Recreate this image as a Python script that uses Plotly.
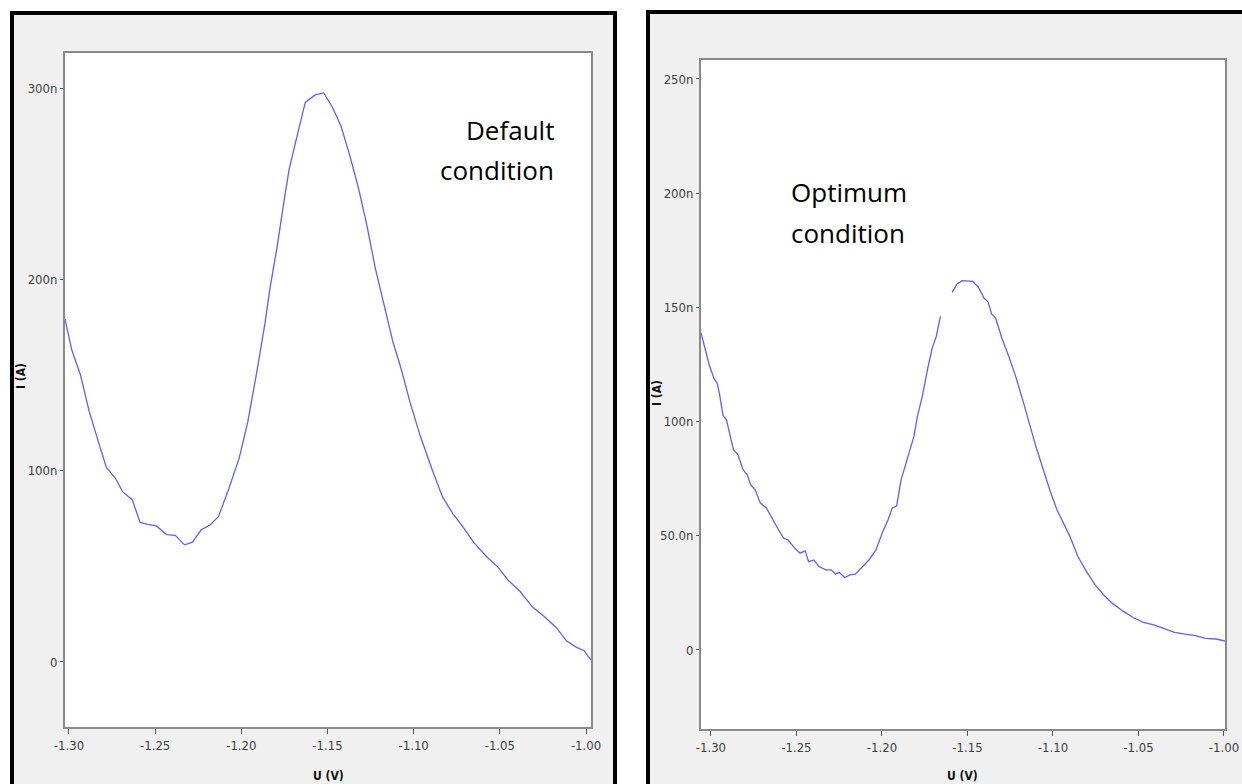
import plotly.graph_objects as go

W, H = 1242, 784

# ---- Data (U in V, I in nA) ----
default_u = [-1.3023, -1.2983, -1.2933, -1.2883, -1.2833, -1.2783, -1.2733, -1.2689, -1.2633, -1.2587,
             -1.2543, -1.2493, -1.2433, -1.2383, -1.2329, -1.2283, -1.2233, -1.2183, -1.2133, -1.2073,
             -1.2013, -1.1963, -1.1913, -1.1863, -1.1833, -1.1793, -1.1753, -1.1723, -1.1673, -1.1629,
             -1.1572, -1.1522, -1.1472, -1.1422, -1.1372, -1.1322, -1.1272, -1.1222, -1.1172, -1.1122,
             -1.1072, -1.1022, -1.0962, -1.0892, -1.0833, -1.0773, -1.0713, -1.0653, -1.0572, -1.0512,
             -1.0452, -1.0382, -1.0312, -1.0242, -1.0172, -1.0112, -1.0052, -1.0012, -0.9971]
default_i = [179.2, 162.9, 150.0, 131.1, 116.2, 101.7, 96.4, 89.0, 84.8, 72.9,
             71.9, 71.1, 66.6, 66.2, 61.2, 62.6, 69.1, 71.5, 75.9, 90.4,
             106.3, 125.2, 150.0, 176.8, 195.7, 216.6, 240.4, 257.3, 276.2, 292.5,
             296.4, 297.4, 290.1, 280.1, 265.2, 248.4, 228.5, 205.6, 186.8, 167.9,
             153.0, 136.1, 118.2, 100.3, 86.4, 77.5, 70.5, 62.6, 54.6, 49.7,
             42.7, 36.8, 28.8, 23.8, 17.9, 10.9, 7.5, 6.0, 1.0]

optimum_u = [-1.3058, -1.3034, -1.3010, -1.2983, -1.2963, -1.2949, -1.2929, -1.2909, -1.2892, -1.2868,
             -1.2842, -1.2812, -1.2788, -1.2767, -1.2741, -1.2711, -1.2675, -1.2646, -1.2610, -1.2574,
             -1.2550, -1.2509, -1.2479, -1.2449, -1.2429, -1.2398, -1.2368, -1.2328, -1.2297, -1.2271,
             -1.2251, -1.2217, -1.2187, -1.2156, -1.2116, -1.2076, -1.2035, -1.1995, -1.1964, -1.1940,
             -1.1914, -1.1888, -1.1859, -1.1833, -1.1813, -1.1793, -1.1762, -1.1732, -1.1706, -1.1682,
             -1.1658, -1.1620,
             -1.1589, -1.1561, -1.1530, -1.1500, -1.1470, -1.1436, -1.1403, -1.1379, -1.1359, -1.1335,
             -1.1299, -1.1258, -1.1218, -1.1177, -1.1137, -1.1097, -1.1056, -1.1016, -1.0976, -1.0935,
             -1.0905, -1.0854, -1.0804, -1.0753, -1.0703, -1.0652, -1.0592, -1.0531, -1.0471, -1.0410,
             -1.0350, -1.0289, -1.0229, -1.0168, -1.0108, -1.0047, -0.9993]
optimum_i = [138.8, 132.2, 124.9, 119.0, 116.8, 111.7, 102.7, 100.8, 95.7, 87.6,
             85.4, 78.9, 76.7, 72.3, 70.1, 64.3, 62.1, 58.0, 53.3, 48.9,
             48.2, 44.5, 42.4, 43.4, 38.7, 39.4, 36.5, 35.1, 35.1, 33.2,
             34.0, 31.7, 32.9, 33.2, 36.1, 39.4, 43.8, 51.9, 57.0, 62.1,
             63.1, 74.5, 81.8, 89.1, 93.5, 102.2, 111.7, 123.4, 132.2, 137.3,
             146.1, None,
             156.7, 160.2, 161.7, 161.7, 161.4, 158.8, 154.1, 152.3, 147.1, 145.3,
             136.6, 128.5, 119.8, 109.5, 98.6, 88.4, 78.9, 69.4, 61.3, 54.8,
             50.4, 40.9, 34.3, 28.5, 24.1, 20.4, 17.1, 14.2, 12.1, 11.0,
             9.2, 7.7, 6.9, 6.3, 5.1, 4.8, 3.9]

x_tickvals = [-1.30, -1.25, -1.20, -1.15, -1.10, -1.05, -1.00]
x_ticktext = ["-1.30", "-1.25", "-1.20", "-1.15", "-1.10", "-1.05", "-1.00"]
left_y_tickvals = [0, 100, 200, 300]
left_y_ticktext = ["0", "100n", "200n", "300n"]
right_y_tickvals = [0, 50, 100, 150, 200, 250]
right_y_ticktext = ["0", "50.0n", "100n", "150n", "200n", "250n"]


def px(x):
    return x / W


def py(y):
    return 1 - y / H


LINE = "rgb(95,95,255)"
TICKFONT = dict(family="Liberation Sans Narrow, Arial Narrow, DejaVu Sans Condensed, sans-serif",
                size=13, color="#404040")

fig = go.Figure()
fig.add_trace(go.Scatter(x=default_u, y=default_i, mode="lines",
                         line=dict(color=LINE, width=1.3), xaxis="x", yaxis="y",
                         showlegend=False, hoverinfo="skip"))
fig.add_trace(go.Scatter(x=optimum_u, y=optimum_i, mode="lines", connectgaps=False,
                         line=dict(color=LINE, width=1.3), xaxis="x2", yaxis="y2",
                         showlegend=False, hoverinfo="skip"))

axis_common = dict(showgrid=False, zeroline=False, showline=True, mirror=True,
                   linecolor="#8a8a8a", linewidth=2, ticks="outside", tickcolor="#555",
                   tickfont=TICKFONT, fixedrange=True, automargin=False)

# plot-area pixel boxes
L_X0, L_X1, L_Y0, L_Y1 = 65, 591, 53, 727
R_X0, R_X1, R_Y0, R_Y1 = 701, 1225, 60, 729

fig.update_layout(
    template="none",
    width=W, height=H, autosize=False,
    margin=dict(l=0, r=0, t=0, b=0, pad=0, autoexpand=False),
    paper_bgcolor="white",
    plot_bgcolor="white",
    xaxis=dict(domain=[px(L_X0), px(L_X1)], range=[-1.3023, -0.9971], anchor="y",
               tickvals=x_tickvals, ticktext=x_ticktext, ticklen=5, **axis_common),
    yaxis=dict(domain=[py(L_Y1), py(L_Y0)], range=[-34.0, 318.3], anchor="x",
               tickvals=left_y_tickvals, ticktext=left_y_ticktext, ticklen=3, **axis_common),
    xaxis2=dict(domain=[px(R_X0), px(R_X1)], range=[-1.3058, -0.9994], anchor="y2",
                tickvals=x_tickvals, ticktext=x_ticktext, ticklen=5, **axis_common),
    yaxis2=dict(domain=[py(R_Y1), py(R_Y0)], range=[-34.6, 258.3], anchor="x2",
                tickvals=right_y_tickvals, ticktext=right_y_ticktext, ticklen=3, **axis_common),
)

# Panel frames (grey background with thick black border)
fig.add_shape(type="rect", xref="paper", yref="paper", layer="below",
              x0=px(12), x1=px(615), y0=py(800), y1=py(13),
              fillcolor="#f0f0f0", line=dict(color="black", width=4))
fig.add_shape(type="rect", xref="paper", yref="paper", layer="below",
              x0=px(648), x1=px(1260), y0=py(800), y1=py(12),
              fillcolor="#f0f0f0", line=dict(color="black", width=4))
# white plot areas
fig.add_shape(type="rect", xref="paper", yref="paper", layer="below",
              x0=px(L_X0), x1=px(L_X1), y0=py(L_Y1), y1=py(L_Y0),
              fillcolor="white", line=dict(width=0))
fig.add_shape(type="rect", xref="paper", yref="paper", layer="below",
              x0=px(R_X0), x1=px(R_X1), y0=py(R_Y1), y1=py(R_Y0),
              fillcolor="white", line=dict(width=0))

LABEL_FONT = dict(family="Open Sans, Noto Sans, sans-serif", size=26, color="black")
TITLE_FONT = dict(family="Liberation Sans Narrow, Arial Narrow, DejaVu Sans Condensed, sans-serif",
                  size=12, color="#111")

annotations = [
    dict(text="Default", x=px(556), y=py(130), xanchor="right", yanchor="middle"),
    dict(text="condition", x=px(556), y=py(170), xanchor="right", yanchor="middle"),
    dict(text="Optimum", x=px(789), y=py(192), xanchor="left", yanchor="middle"),
    dict(text="condition", x=px(789), y=py(233), xanchor="left", yanchor="middle"),
]
for a in annotations:
    fig.add_annotation(xref="paper", yref="paper", showarrow=False, font=LABEL_FONT, **a)

fig.add_annotation(text="<b>U (V)</b>", xref="paper", yref="paper", x=px(328), y=py(776),
                   showarrow=False, font=TITLE_FONT, xanchor="center", yanchor="middle")
fig.add_annotation(text="<b>U (V)</b>", xref="paper", yref="paper", x=px(962), y=py(776),
                   showarrow=False, font=TITLE_FONT, xanchor="center", yanchor="middle")
fig.add_annotation(text="<b>I (A)</b>", xref="paper", yref="paper", x=px(21), y=py(376),
                   showarrow=False, font=TITLE_FONT, textangle=-90, xanchor="center", yanchor="middle")
fig.add_annotation(text="<b>I (A)</b>", xref="paper", yref="paper", x=px(657), y=py(393),
                   showarrow=False, font=TITLE_FONT, textangle=-90, xanchor="center", yanchor="middle")

fig.write_html("out.html")
